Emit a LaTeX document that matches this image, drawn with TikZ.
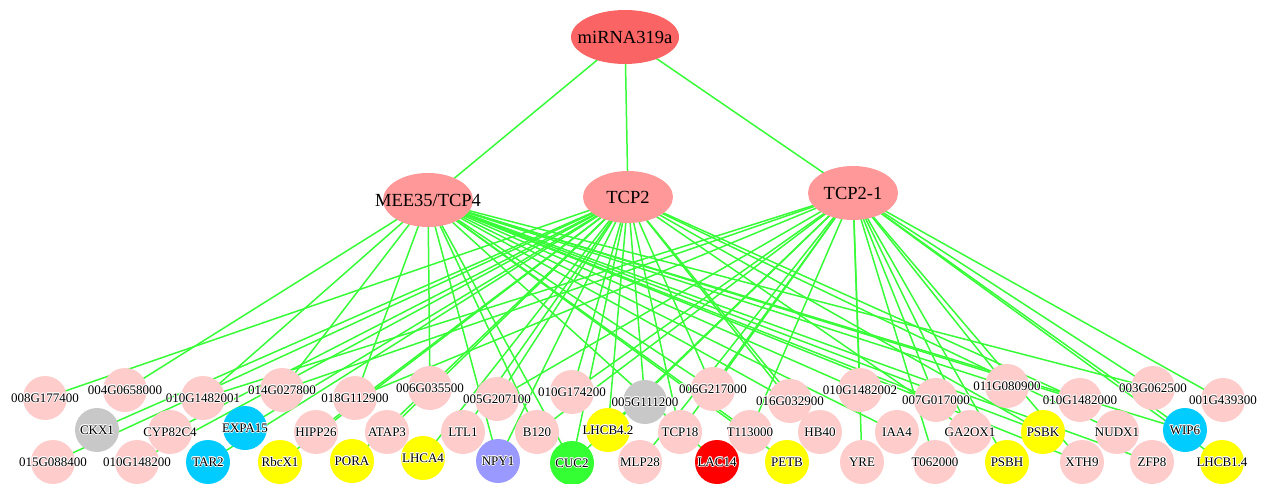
\documentclass[tikz,border=0pt]{standalone}
\usepackage{fontspec}
\setmainfont{Liberation Serif}
\usetikzlibrary{shapes.geometric,backgrounds}
\definecolor{mircol}{RGB}{250,100,100}
\definecolor{tcpcol}{RGB}{255,153,153}
\definecolor{pkcol}{RGB}{255,204,204}
\definecolor{grcol}{RGB}{200,200,200}
\definecolor{cycol}{RGB}{0,204,255}
\definecolor{ylcol}{RGB}{255,255,0}
\definecolor{pucol}{RGB}{153,153,255}
\definecolor{gncol}{RGB}{51,255,51}
\definecolor{rdcol}{RGB}{255,0,0}
\definecolor{edgecol}{RGB}{55,252,55}
\newcommand\hcopy[3]{\rlap{\kern#1\raisebox{#2}{\color{white}#3}}}
\newcommand\halo[1]{\hcopy{-0.8pt}{0pt}{#1}\hcopy{0.8pt}{0pt}{#1}\hcopy{0pt}{0.8pt}{#1}\hcopy{0pt}{-0.8pt}{#1}\hcopy{-0.6pt}{0.6pt}{#1}\hcopy{0.6pt}{0.6pt}{#1}\hcopy{-0.6pt}{-0.6pt}{#1}\hcopy{0.6pt}{-0.6pt}{#1}#1}
\tikzset{
  topnode/.style={ellipse,draw=none,inner sep=0pt,minimum width=90pt,minimum height=54pt,fill=tcpcol,font=\fontsize{18.5}{18.5}\selectfont},
  gene/.style={circle,draw=none,inner sep=0pt,minimum size=44pt,fill=pkcol},
  gry/.style={gene,fill=grcol},
  cyn/.style={gene,fill=cycol},
  ylw/.style={gene,fill=ylcol},
  pur/.style={gene,fill=pucol},
  grn/.style={gene,fill=gncol},
  red/.style={gene,fill=rdcol},
  lbl/.style={inner sep=0pt,font=\fontsize{13}{13}\selectfont},
  link/.style={draw=edgecol,line width=1.5pt}
}
\begin{document}
\begin{tikzpicture}[x=1pt,y=-1pt]
\useasboundingbox (0,0) rectangle (1261,484);
% top level
\node[topnode,fill=mircol,minimum width=108pt] (mir) at (625,37) {\makebox[0pt]{miRNA319a}};
\node[topnode] (M) at (428,200) {\makebox[0pt]{MEE35/TCP4}};
\node[topnode,minimum height=52pt] (T2) at (628,197) {\makebox[0pt]{TCP2}};
\node[topnode] (T21) at (853,193) {\makebox[0pt]{TCP2-1}};
% upper row
\node[gene] (a1) at (45,398) {};
\node[gene] (a2) at (125,390) {};
\node[gene] (a3) at (203,398) {};
\node[gene] (a4) at (282,390) {};
\node[gene] (a5) at (355,398) {};
\node[gene] (a6) at (430,388) {};
\node[gene] (a7) at (497,399) {};
\node[gene] (a8) at (572,392) {};
\node[gry] (a9) at (645,402) {};
\node[gene] (a10) at (713,389) {};
\node[gene] (a11) at (790,401) {};
\node[gene] (a12) at (860,390) {};
\node[gene] (a13) at (936,400) {};
\node[gene] (a14) at (1007,386) {};
\node[gene] (a15) at (1080,400) {};
\node[gene] (a16) at (1153,388) {};
\node[gene] (a17) at (1223,400) {};
% middle row
\node[gry] (b1) at (97,430) {};
\node[gene] (b2) at (170,432) {};
\node[cyn] (b3) at (245,428) {};
\node[gene] (b4) at (316,432) {};
\node[gene] (b5) at (387,432) {};
\node[gene] (b6) at (463,432) {};
\node[gene] (b7) at (537,432) {};
\node[ylw] (b8) at (608,430) {};
\node[gene] (b9) at (680,432) {};
\node[gene] (b10) at (750,432) {};
\node[gene] (b11) at (820,432) {};
\node[gene] (b12) at (897,432) {};
\node[gene] (b13) at (970,432) {};
\node[ylw] (b14) at (1043,432) {};
\node[gene] (b15) at (1117,432) {};
\node[cyn] (b16) at (1185,430) {};
% bottom row
\node[gene] (c1) at (53,462) {};
\node[gene] (c2) at (137,462) {};
\node[cyn] (c3) at (208,462) {};
\node[ylw] (c4) at (280,462) {};
\node[ylw] (c5) at (352,461) {};
\node[ylw] (c6) at (423,458) {};
\node[pur] (c7) at (498,461) {};
\node[grn] (c8) at (572,463) {};
\node[gene] (c9) at (640,462) {};
\node[red] (c10) at (717,462) {};
\node[ylw] (c11) at (787,462) {};
\node[gene] (c12) at (862,462) {};
\node[gene] (c13) at (935,462) {};
\node[ylw] (c14) at (1007,462) {};
\node[gene] (c15) at (1082,462) {};
\node[gene] (c16) at (1152,462) {};
\node[ylw] (c17) at (1222,462) {};
% labels
\node[lbl] (la1) at (a1) {\halo{008G177400}};
\node[lbl] (la2) at (a2) {\halo{004G0658000}};
\node[lbl] (la3) at (a3) {\halo{010G1482001}};
\node[lbl] (la4) at (a4) {\halo{014G027800}};
\node[lbl] (la5) at (a5) {\halo{018G112900}};
\node[lbl] (la6) at (a6) {\halo{006G035500}};
\node[lbl] (la7) at (a7) {\halo{005G207100}};
\node[lbl] (la8) at (a8) {\halo{010G174200}};
\node[lbl] (la9) at (a9) {\halo{005G111200}};
\node[lbl] (la10) at (a10) {\halo{006G217000}};
\node[lbl] (la11) at (a11) {\halo{016G032900}};
\node[lbl] (la12) at (a12) {\halo{010G1482002}};
\node[lbl] (la13) at (a13) {\halo{007G017000}};
\node[lbl] (la14) at (a14) {\halo{011G080900}};
\node[lbl] (la15) at (a15) {\halo{010G1482000}};
\node[lbl] (la16) at (a16) {\halo{003G062500}};
\node[lbl] (la17) at (a17) {\halo{001G439300}};
\node[lbl] (lb1) at (b1) {\halo{CKX1}};
\node[lbl] (lb2) at (b2) {\halo{CYP82C4}};
\node[lbl] (lb3) at (b3) {\halo{EXPA15}};
\node[lbl] (lb4) at (b4) {\halo{HIPP26}};
\node[lbl] (lb5) at (b5) {\halo{ATAP3}};
\node[lbl] (lb6) at (b6) {\halo{LTL1}};
\node[lbl] (lb7) at (b7) {\halo{B120}};
\node[lbl] (lb8) at (b8) {\halo{LHCB4.2}};
\node[lbl] (lb9) at (b9) {\halo{TCP18}};
\node[lbl] (lb10) at (b10) {\halo{T113000}};
\node[lbl] (lb11) at (b11) {\halo{HB40}};
\node[lbl] (lb12) at (b12) {\halo{IAA4}};
\node[lbl] (lb13) at (b13) {\halo{GA2OX1}};
\node[lbl] (lb14) at (b14) {\halo{PSBK}};
\node[lbl] (lb15) at (b15) {\halo{NUDX1}};
\node[lbl] (lb16) at (b16) {\halo{WIP6}};
\node[lbl] (lc1) at (c1) {\halo{015G088400}};
\node[lbl] (lc2) at (c2) {\halo{010G148200}};
\node[lbl] (lc3) at (c3) {\halo{TAR2}};
\node[lbl] (lc4) at (c4) {\halo{RbcX1}};
\node[lbl] (lc5) at (c5) {\halo{PORA}};
\node[lbl] (lc6) at (c6) {\halo{LHCA4}};
\node[lbl] (lc7) at (c7) {\halo{NPY1}};
\node[lbl] (lc8) at (c8) {\halo{CUC2}};
\node[lbl] (lc9) at (c9) {\halo{MLP28}};
\node[lbl] (lc10) at (c10) {\halo{LAC14}};
\node[lbl] (lc11) at (c11) {\halo{PETB}};
\node[lbl] (lc12) at (c12) {\halo{YRE}};
\node[lbl] (lc13) at (c13) {\halo{T062000}};
\node[lbl] (lc14) at (c14) {\halo{PSBH}};
\node[lbl] (lc15) at (c15) {\halo{XTH9}};
\node[lbl] (lc16) at (c16) {\halo{ZFP8}};
\node[lbl] (lc17) at (c17) {\halo{LHCB1.4}};
% edges
\begin{scope}[on background layer]
\foreach \t in {M,T2,T21} \draw[link] (mir.center) -- (\t.center);
\foreach \t in {a2,a3,a4,a5,a6,c7,b7,c8,a10,b10,c10,c11,a11,a12,b12,a13,a14,a15,a16,b14,b16,c15,c16}
  \draw[link] (M.center) -- (\t.center);
\foreach \t in {a1,c1,b1,c2,b2,b3,c3,c4,b4,c5,b5,c6,b6,c7,a7,a8,c8,b8,a9,b9,a10,a11,b11,b13,b14,a15,b15}
  \draw[link] (T2.center) -- (\t.center);
\foreach \t in {a3,a4,a5,a7,b7,a8,b8,c8,c9,a10,b9,b10,a12,c12,a13,c13,a14,b13,c14,a16,a17,b16,c17,c15}
  \draw[link] (T21.center) -- (\t.center);
\end{scope}
\end{tikzpicture}
\end{document}
